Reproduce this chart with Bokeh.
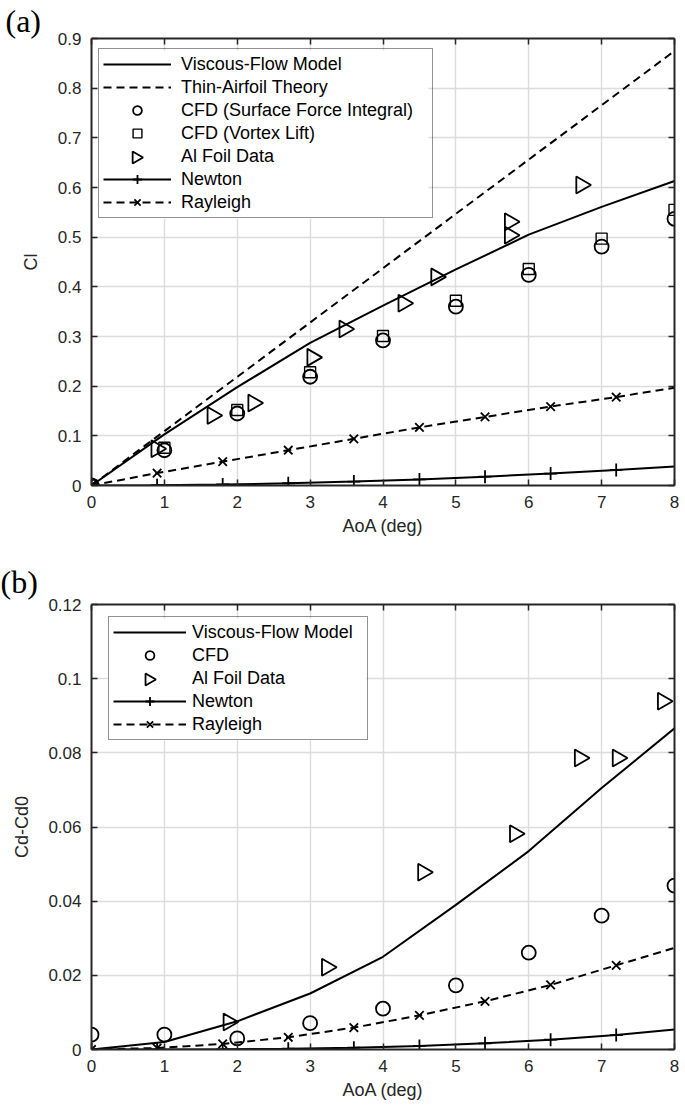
import numpy as np
from bokeh.plotting import figure
from bokeh.models import (LinearAxis, FixedTicker, CustomJSTickFormatter, Legend,
                          LegendItem, Range1d)
from bokeh.layouts import column
from bokeh.embed import file_html
from bokeh.resources import INLINE

# ---------------- tick values ----------------
x_ticks = [0, 1, 2, 3, 4, 5, 6, 7, 8]
cl_ticks = [0, 0.1, 0.2, 0.3, 0.4, 0.5, 0.6, 0.7, 0.8, 0.9]
cd_ticks = [0, 0.02, 0.04, 0.06, 0.08, 0.1, 0.12]

# ---------------- panel (a): lift ----------------
aoa_model = [0, 1, 2, 3, 4, 5, 6, 7, 8]
cl_viscous = [0, 0.103, 0.198, 0.287, 0.362, 0.435, 0.505, 0.561, 0.613]
aoa_thin = [0, 8]
cl_thin = [0, 0.875]
aoa_cfd = [0, 1, 2, 3, 4, 5, 6, 7, 8]
cl_cfd_force = [0, 0.071, 0.145, 0.219, 0.292, 0.360, 0.424, 0.481, 0.537]
cl_cfd_vortex = [0, 0.076, 0.152, 0.228, 0.301, 0.372, 0.436, 0.497, 0.555]
aoa_foil_a = [0.89, 1.66, 2.22, 3.03, 3.47, 4.28, 4.73, 5.74, 5.74, 6.72]
cl_foil = [0.074, 0.141, 0.166, 0.258, 0.315, 0.367, 0.420, 0.531, 0.504, 0.605]
aoa_theory = [0, 0.9, 1.8, 2.7, 3.6, 4.5, 5.4, 6.3, 7.2, 8]
cl_newton = [0, 0.0005, 0.002, 0.0045, 0.0079, 0.0123, 0.0177, 0.024, 0.0313, 0.0385]
cl_rayleigh = [0, 0.025, 0.048, 0.071, 0.094, 0.117, 0.138, 0.159, 0.178, 0.197]
aoa_theory_marks = [0, 0.9, 1.8, 2.7, 3.6, 4.5, 5.4, 6.3, 7.2]
cl_newton_marks = [0, 0.0005, 0.002, 0.0045, 0.0079, 0.0123, 0.0177, 0.024, 0.0313]
cl_rayleigh_marks = [0, 0.025, 0.048, 0.071, 0.094, 0.117, 0.138, 0.159, 0.178]

# ---------------- panel (b): drag ----------------
cd_viscous = [0, 0.002, 0.0076, 0.0151, 0.025, 0.039, 0.0535, 0.0705, 0.0866]
cd_cfd = [0.004, 0.004, 0.003, 0.0071, 0.011, 0.0173, 0.0261, 0.0361, 0.0442]
aoa_foil_b = [1.88, 3.23, 4.55, 5.81, 6.70, 7.22, 7.84]
cd_foil = [0.0074, 0.0222, 0.0478, 0.0582, 0.0786, 0.0786, 0.0939]
cd_newton = [0, 0.00001, 0.00006, 0.00021, 0.0005, 0.00097, 0.00167, 0.00264, 0.0039, 0.0054]
cd_rayleigh = [0, 0.0004, 0.0015, 0.0033, 0.0059, 0.0092, 0.013, 0.0174, 0.0227, 0.0274]
cd_newton_marks = [0, 0.00001, 0.00006, 0.00021, 0.0005, 0.00097, 0.00167, 0.00264, 0.0039]
cd_rayleigh_marks = [0, 0.0004, 0.0015, 0.0033, 0.0059, 0.0092, 0.013, 0.0174, 0.0227]

FONT = "Liberation Sans"
AX = "#262626"
W = 684
RIGHT = 10
X_END = 8

# legend layout constants (pixels)
PAD, ROW, SPC = 4, 22, 1


def make_fig(h, top, bottom, left, y_end, y_ticks, ylabel, ylab_standoff, tag, tag_standoff):
    p = figure(width=W, height=h, x_range=Range1d(0, X_END), y_range=Range1d(0, y_end),
               output_backend="svg", toolbar_location=None,
               min_border_left=left, min_border_right=RIGHT,
               min_border_top=top, min_border_bottom=bottom)
    p.background_fill_color = "white"
    p.border_fill_color = "white"
    p.outline_line_color = None
    p.title.text = tag
    p.title.text_font = "Liberation Serif"
    p.title.text_font_size = "32px"
    p.title.text_font_style = "normal"
    p.title.text_color = "black"
    p.title.align = "left"
    p.title.offset = -left
    p.title.standoff = tag_standoff
    p.xaxis.ticker = FixedTicker(ticks=x_ticks)
    p.yaxis.ticker = FixedTicker(ticks=y_ticks)
    p.xaxis.formatter = CustomJSTickFormatter(code="return String(Math.round(tick*1000)/1000);")
    p.yaxis.formatter = CustomJSTickFormatter(code="return String(Math.round(tick*1000)/1000);")
    p.xaxis.axis_label = "AoA (deg)"
    p.yaxis.axis_label = ylabel
    for ax in (p.xaxis[0], p.yaxis[0]):
        ax.axis_line_color = AX
        ax.axis_line_width = 2
        ax.major_tick_line_color = AX
        ax.major_tick_line_width = 1.5
        ax.major_tick_in = 6
        ax.major_tick_out = 0
        ax.minor_tick_in = 0
        ax.minor_tick_out = 0
        ax.major_label_text_font = FONT
        ax.major_label_text_font_size = "17px"
        ax.major_label_text_color = AX
        ax.major_label_standoff = 10
        ax.axis_label_text_font = FONT
        ax.axis_label_text_font_size = "18px"
        ax.axis_label_text_font_style = "normal"
        ax.axis_label_text_color = AX
    p.xaxis[0].axis_label_standoff = 5
    p.yaxis[0].axis_label_standoff = ylab_standoff
    for g in (p.xgrid[0], p.ygrid[0]):
        g.grid_line_color = "#dcdcdc"
        g.grid_line_width = 1.4
    top_ax = LinearAxis(ticker=FixedTicker(ticks=x_ticks),
                        formatter=CustomJSTickFormatter(code="return '';"))
    right_ax = LinearAxis(ticker=FixedTicker(ticks=y_ticks),
                          formatter=CustomJSTickFormatter(code="return '';"))
    for ax in (top_ax, right_ax):
        ax.axis_line_color = AX
        ax.axis_line_width = 2
        ax.major_tick_line_color = AX
        ax.major_tick_line_width = 1.5
        ax.major_tick_in = 6
        ax.major_tick_out = 0
        ax.minor_tick_in = 0
        ax.minor_tick_out = 0
        ax.major_label_text_font_size = "0px"
        ax.major_label_standoff = 0
    p.add_layout(top_ax, "above")
    p.add_layout(right_ax, "right")
    frame_w = W - left - RIGHT
    frame_h = h - top - bottom
    return p, frame_w, frame_h


def add_legend(p, items, x_off, top_off, frame_w, frame_h, y_end, glyph_w, standoff,
               label_w, key_row, key_kwargs):
    """Legend with a transparent body; the white panel and the right-pointing
    triangle key are drawn underneath from the same layout constants."""
    n = len(items)
    leg_h = 2 * PAD + n * ROW + (n - 1) * SPC
    leg_w = 2 * PAD + glyph_w + standoff + label_w
    sx = X_END / frame_w
    sy = y_end / frame_h
    # white legend panel (hides grid lines)
    p.quad(left=[x_off * sx], right=[(x_off + leg_w) * sx],
           top=[y_end - top_off * sy], bottom=[y_end - (top_off + leg_h) * sy],
           fill_color="white", line_color=None)
    # right-pointing triangle key
    kx = (x_off + PAD + glyph_w / 2) * sx
    ky = y_end - (top_off + PAD + key_row * (ROW + SPC) + ROW / 2) * sy
    p.scatter([kx], [ky], **key_kwargs)
    leg = Legend(items=items, location=(x_off, frame_h - top_off - leg_h),
                 padding=PAD, spacing=SPC,
                 glyph_height=ROW, label_height=ROW, glyph_width=glyph_w,
                 label_standoff=standoff, label_width=label_w, margin=0,
                 label_text_font=FONT, label_text_font_size="18px",
                 label_text_color="black",
                 border_line_color=AX, border_line_width=1.5,
                 background_fill_color="white", background_fill_alpha=0.0)
    p.add_layout(leg)


DASH = "8 5"
LW = 2
MLW = 1.8
KEY = dict(marker="triangle", size=12, angle=-np.pi / 2, fill_color=None,
           line_color="black", line_width=MLW)

# ================= panel (a) =================
HA, TA, BA, LA = 542, 38, 57, 86
pa, fwa, fha = make_fig(HA, TA, BA, LA, 0.9, cl_ticks, "Cl", 14, "(a)", 0)
r_visc = pa.line(aoa_model, cl_viscous, line_color="black", line_width=LW)
r_thin = pa.line(aoa_thin, cl_thin, line_color="black", line_width=LW, line_dash=DASH)
r_newt_l = pa.line(aoa_theory, cl_newton, line_color="black", line_width=LW)
r_newt_m = pa.scatter(aoa_theory_marks, cl_newton_marks, marker="cross", size=13,
                      line_color="black", line_width=MLW)
r_ray_l = pa.line(aoa_theory, cl_rayleigh, line_color="black", line_width=LW, line_dash=DASH)
r_ray_m = pa.scatter(aoa_theory_marks, cl_rayleigh_marks, marker="x", size=12,
                     line_color="black", line_width=MLW)
r_cfd = pa.scatter(aoa_cfd, cl_cfd_force, marker="circle", size=14, fill_color=None,
                   line_color="black", line_width=MLW)
r_vor = pa.scatter(aoa_cfd, cl_cfd_vortex, marker="square", size=11, fill_color=None,
                   line_color="black", line_width=1.4)
r_foil = pa.scatter(aoa_foil_a, cl_foil, marker="triangle", size=17, angle=-np.pi / 2,
                    fill_color=None, line_color="black", line_width=MLW)
r_foil_key = pa.scatter(aoa_foil_a, cl_foil, marker="triangle", size=1,
                        fill_alpha=0, line_alpha=0)

items_a = [
    LegendItem(label="Viscous-Flow Model", renderers=[r_visc]),
    LegendItem(label="Thin-Airfoil Theory", renderers=[r_thin]),
    LegendItem(label="CFD (Surface Force Integral)", renderers=[r_cfd]),
    LegendItem(label="CFD (Vortex Lift)", renderers=[r_vor]),
    LegendItem(label="Al Foil Data", renderers=[r_foil_key]),
    LegendItem(label="Newton", renderers=[r_newt_l, r_newt_m]),
    LegendItem(label="Rayleigh", renderers=[r_ray_l, r_ray_m]),
]
add_legend(pa, items_a, 7, 12, fwa, fha, 0.9, 68, 10, 247, 4, KEY)

# ================= panel (b) =================
HB, TB, BB, LB = 563, 62, 56, 91
pb, fwb, fhb = make_fig(HB, TB, BB, LB, 0.12, cd_ticks, "Cd-Cd0", 13, "(b)", 10)
s_visc = pb.line(aoa_model, cd_viscous, line_color="black", line_width=LW)
s_newt_l = pb.line(aoa_theory, cd_newton, line_color="black", line_width=LW)
s_newt_m = pb.scatter(aoa_theory_marks, cd_newton_marks, marker="cross", size=13,
                      line_color="black", line_width=MLW)
s_ray_l = pb.line(aoa_theory, cd_rayleigh, line_color="black", line_width=LW, line_dash=DASH)
s_ray_m = pb.scatter(aoa_theory_marks, cd_rayleigh_marks, marker="x", size=12,
                     line_color="black", line_width=MLW)
s_cfd = pb.scatter(aoa_cfd, cd_cfd, marker="circle", size=14, fill_color=None,
                   line_color="black", line_width=MLW)
s_foil = pb.scatter(aoa_foil_b, cd_foil, marker="triangle", size=17, angle=-np.pi / 2,
                    fill_color=None, line_color="black", line_width=MLW)
s_foil_key = pb.scatter(aoa_foil_b, cd_foil, marker="triangle", size=1,
                        fill_alpha=0, line_alpha=0)

items_b = [
    LegendItem(label="Viscous-Flow Model", renderers=[s_visc]),
    LegendItem(label="CFD", renderers=[s_cfd]),
    LegendItem(label="Al Foil Data", renderers=[s_foil_key]),
    LegendItem(label="Newton", renderers=[s_newt_l, s_newt_m]),
    LegendItem(label="Rayleigh", renderers=[s_ray_l, s_ray_m]),
]
add_legend(pb, items_b, 17, 14, fwb, fhb, 0.12, 73, 6, 171, 2, KEY)

layout = column(pa, pb, spacing=0)
open("out.html", "w").write(file_html(layout, INLINE))
